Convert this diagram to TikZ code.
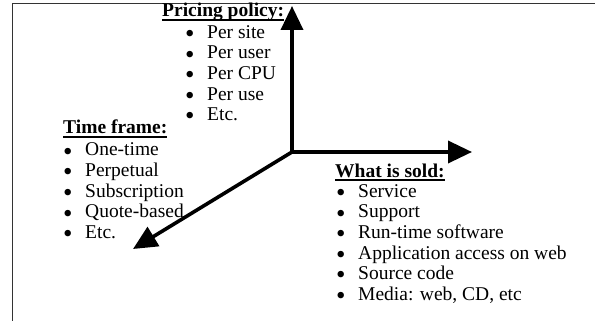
\documentclass[tikz,border=0pt]{standalone}
\usepackage{fontspec}
\setmainfont{Liberation Serif}
\usetikzlibrary{arrows.meta}
\tikzstyle{frame}=[draw=black!80, line width=1.4pt]
\tikzstyle{axis}=[-{Triangle[length=24pt,width=22pt]}, line width=3.6pt, line join=miter]
\tikzstyle{heading}=[inner sep=0pt, anchor=base west]
\tikzstyle{items}=[inner sep=0pt, anchor=north west, align=left]
\newcommand{\ulhead}[1]{\setbox0\hbox{\textbf{#1}}\rlap{\rule[-4.2pt]{\wd0}{1.7pt}}\box0}
\newcommand{\itm}[1]{\strut\makebox[21pt][l]{\hspace{-1pt}\raisebox{-4.3pt}{\fontsize{27}{20}\selectfont\textbullet}}#1}

\begin{document}
\begin{tikzpicture}[x=1pt, y=-1pt, font=\fontsize{19.5}{20.6}\selectfont]
				\useasboundingbox (0,0) rectangle (595,321);
				
				%The page edges
				\draw[frame] (595,3.5) -| (12.5,321);
				
				%The three axes
				\coordinate (origin) at (292,152);
				\coordinate (up) at (292,6);
				\coordinate (right) at (472,152);
				\coordinate (down) at (133,249);
				\draw[axis] (origin) -- (up);
				\draw[axis] (origin) -- (right);
				\draw[axis] (origin) -- (down);
				
				%Pricing policy
				\draw (162,17) node[heading] (price) {\ulhead{Pricing policy:}};
				\draw (186,23.6) node[items] (pricelist) {\itm{Per site}\\ \itm{Per user}\\ \itm{Per CPU}\\ \itm{Per use}\\ \itm{Etc.}};
				
				%Time frame
				\draw (63,134) node[heading] (time) {\ulhead{Time frame:}};
				\draw (64,141.3) node[items] (timelist) {\itm{One-time}\\ \itm{Perpetual}\\ \itm{Subscription}\\ \itm{Quote-based}\\ \itm{Etc.}};
				
				%What is sold
				\draw (335,177) node[heading] (sold) {\ulhead{What is sold:}};
				\draw (337,182.6) node[items] (soldlist) {\itm{Service}\\ \itm{Support}\\ \itm{Run-time software}\\ \itm{Application access on web}\\ \itm{Source code}\\ \itm{Media: web, CD, etc}};
			\end{tikzpicture}
\end{document}
